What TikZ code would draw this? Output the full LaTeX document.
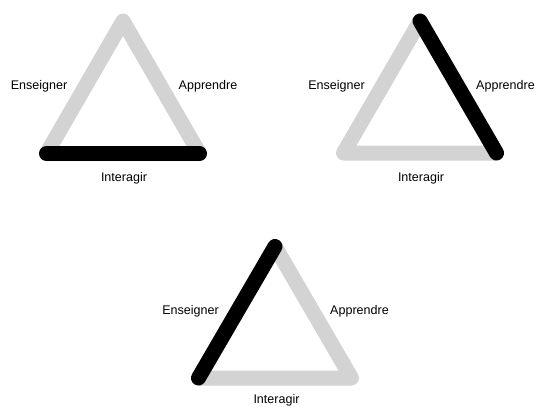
\documentclass[tikz,border=0pt]{standalone}
\usepackage{fontspec}
\setmainfont{Liberation Sans}
\definecolor{edgegray}{RGB}{211,211,211}

\begin{document}
\begin{tikzpicture}[
    x=0.75pt, y=-0.75pt,
    side/.style={draw=edgegray, line width=11.25pt, line cap=round, line join=round},
    active/.style={draw=black, line width=11.25pt, line cap=round},
    lbl/.style={font=\fontsize{9.4}{11}\selectfont, inner sep=0pt, anchor=base}
]
    \useasboundingbox (0,0) rectangle (536,407);

    % Corners
    \coordinate (leftA) at (46.5,153.5);
    \coordinate (rightA) at (199.5,153.5);
    \coordinate (topA) at (123,21);
    \coordinate (leftB) at (343.5,153);
    \coordinate (rightB) at (496.5,153);
    \coordinate (topB) at (420,21);
    \coordinate (leftC) at (198.5,378);
    \coordinate (rightC) at (351.5,378);
    \coordinate (topC) at (275,246.5);

    % Triangles, highlighted side on top
    \draw[side] (leftA) -- (rightA) -- (topA) -- cycle;
    \draw[active] (leftA) -- (rightA);

    \draw[side] (leftB) -- (rightB) -- (topB) -- cycle;
    \draw[active] (topB) -- (rightB);

    \draw[side] (leftC) -- (rightC) -- (topC) -- cycle;
    \draw[active] (leftC) -- (topC);

    % Labels
    \node[lbl] (ensA) at (39,89) {Enseigner};
    \node[lbl] (appA) at (208,89) {Apprendre};
    \node[lbl] (intA) at (124,181.5) {Interagir};

    \node[lbl] (ensB) at (336.5,89) {Enseigner};
    \node[lbl] (appB) at (505.5,89) {Apprendre};
    \node[lbl] (intB) at (421,181.5) {Interagir};

    \node[lbl] (ensC) at (190.5,314) {Enseigner};
    \node[lbl] (appC) at (359.5,314) {Apprendre};
    \node[lbl] (intC) at (276.5,403.5) {Interagir};
\end{tikzpicture}
\end{document}
